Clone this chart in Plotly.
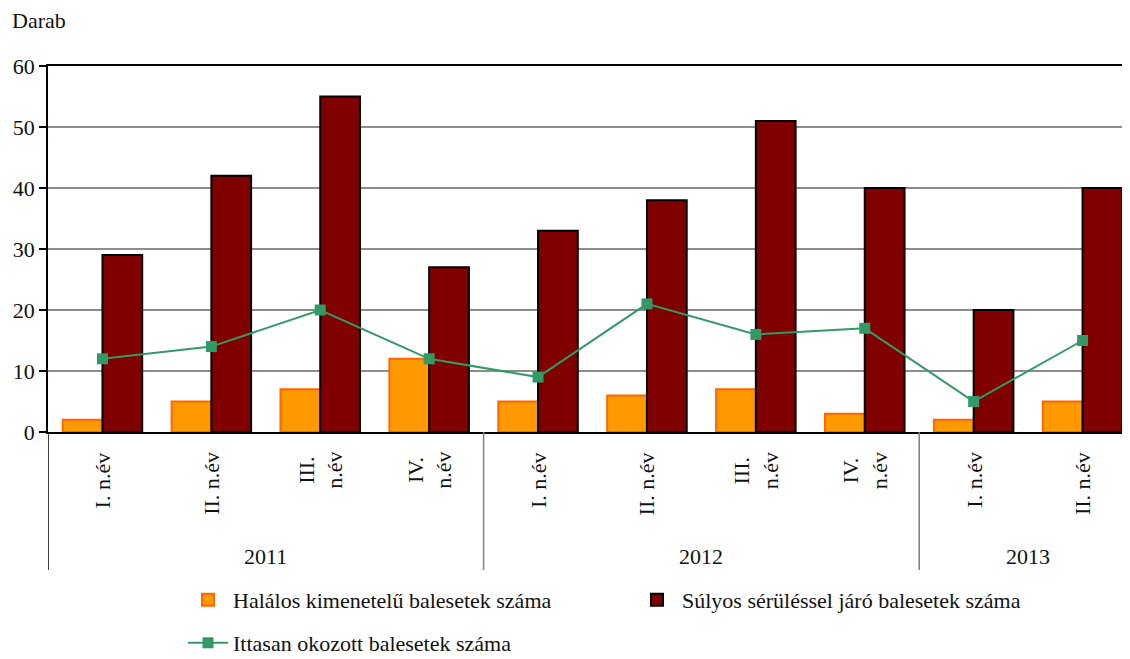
import plotly.graph_objects as go

quarters = ["I. n.év", "II. n.év", "III.<br>n.év", "IV.<br>n.év",
            "I. n.év", "II. n.év", "III.<br>n.év", "IV.<br>n.év",
            "I. n.év", "II. n.év"]
years = ["2011", "2012", "2013"]
year_sizes = [4, 4, 2]
halalos = [2, 5, 7, 12, 5, 6, 7, 3, 2, 5]
sulyos = [29, 42, 55, 27, 33, 38, 51, 40, 20, 40]
ittasan = [12, 14, 20, 12, 9, 21, 16, 17, 5, 15]

names = ["Halálos kimenetelű balesetek száma",
         "Súlyos sérüléssel járó balesetek száma",
         "Ittasan okozott balesetek száma"]

FONT = "Liberation Serif"
FS = 22
x = list(range(len(quarters)))

fig = go.Figure()
fig.add_trace(go.Bar(x=x, y=halalos, name=names[0],
                     marker=dict(color="#FF9900", line=dict(color="#FF6600", width=2)),
                     legend="legend", showlegend=True))
fig.add_trace(go.Bar(x=x, y=sulyos, name=names[1],
                     marker=dict(color="#800000", line=dict(color="#000000", width=2)),
                     legend="legend2", showlegend=True))
fig.add_trace(go.Scatter(x=x, y=ittasan, name=names[2], mode="lines+markers",
                         line=dict(color="#339966", width=2),
                         marker=dict(symbol="square", size=11, color="#339966"),
                         legend="legend3", showlegend=True))

# page offset caused by the default body margin of the HTML page
OFF = 8
W, H = 1130 - OFF, 659 - OFF
# plot area in page pixels: left 48, top 66, bottom 432, right 1130
P_L, P_T, P_B, P_R = 48, 66, 432, 1130
L = P_L - OFF
T = P_T - OFF
B = H - (P_B - OFF)
pw = P_R - P_L
ph = P_B - P_T
catw = 108.9

def py(ypage):
    return (P_B - ypage) / ph

def px(xpage):
    return (xpage - P_L) / pw

annotations = []
for i, q in enumerate(quarters):
    annotations.append(dict(x=i, xref="x", y=py(450), yref="paper", text=q,
                            textangle=-90, xanchor="center", yanchor="top",
                            showarrow=False, align="center",
                            font=dict(family=FONT, size=FS, color="#111")))
start = 0
shapes = []
for yr, n in zip(years, year_sizes):
    annotations.append(dict(x=start + (n - 1) / 2, xref="x", y=py(556), yref="paper",
                            text=yr, showarrow=False, xanchor="center", yanchor="middle",
                            font=dict(family=FONT, size=FS, color="#111")))
    shapes.append(dict(type="line", xref="x", yref="paper", x0=start - 0.5, x1=start - 0.5,
                       y0=0, y1=py(570), line=dict(color="#808080", width=1.5)))
    start += n
shapes.append(dict(type="line", xref="x", yref="paper", x0=start - 0.5, x1=start - 0.5,
                   y0=0, y1=py(570), line=dict(color="#808080", width=1.5)))
shapes[0]["line"]["color"] = "#000000"

annotations.append(dict(x=px(10), xref="paper", xanchor="left", y=py(21), yref="paper",
                        yanchor="middle", text="Darab", showarrow=False,
                        font=dict(family=FONT, size=FS, color="#111")))

xmax = -0.5 + pw / catw

legend_common = dict(orientation="h", font=dict(family=FONT, size=FS, color="#111"),
                     bgcolor="rgba(0,0,0,0)", yanchor="middle", xanchor="left",
                     itemwidth=40, visible=True)

fig.update_layout(
    width=W, height=H,
    margin=dict(l=L, r=0, t=T, b=B, pad=0, autoexpand=False),
    plot_bgcolor="white", paper_bgcolor="white",
    showlegend=True,
    barmode="group", bargap=0.27, bargroupgap=0,
    font=dict(family=FONT, size=FS, color="#111"),
    xaxis=dict(range=[-0.5, xmax], showticklabels=False, showgrid=False, zeroline=False,
               showline=True, linecolor="black", linewidth=1.5, mirror=True, ticks=""),
    yaxis=dict(range=[0, 60], dtick=10, showgrid=True, gridcolor="#8c8c8c", gridwidth=1.5,
               zeroline=False, showline=True, linecolor="black", linewidth=1.5,
               ticks="outside", ticklen=7, tickcolor="black", tickwidth=1.5,
               tickfont=dict(family=FONT, size=FS, color="#111")),
    legend=dict(x=px(183), y=py(600), **legend_common),
    legend2=dict(x=px(632), y=py(600), **legend_common),
    legend3=dict(x=px(183), y=py(643), **legend_common),
    annotations=annotations,
    shapes=shapes,
)

fig.write_html("out.html")
